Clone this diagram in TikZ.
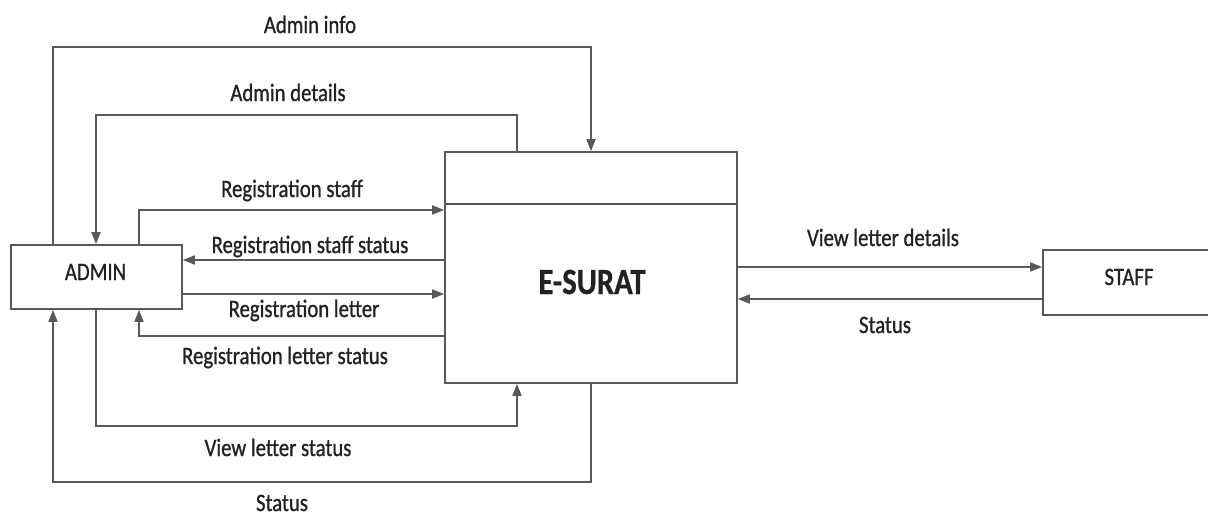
\documentclass[tikz,border=0pt]{standalone}
\usepackage{fontspec}
\setmainfont{Carlito}[FakeStretch=0.83, FakeBold=0.9]
\newfontfamily\titlefont{Carlito Bold}[FakeStretch=0.83, FakeBold=0.6]
\usetikzlibrary{arrows.meta}
\definecolor{linegray}{HTML}{595959}
\definecolor{textgray}{HTML}{222222}
\tikzset{
  box/.style={draw=linegray, line width=1.6pt, fill=white, inner sep=0pt},
  flow/.style={draw=linegray, line width=1.6pt, -{Triangle[length=12pt,width=9pt]}},
  lbl/.style={anchor=base, text=textgray, inner sep=0pt, font=\fontsize{25}{30}\selectfont},
  title/.style={anchor=base, text=textgray, inner sep=0pt, font=\fontsize{37}{44}\titlefont},
}
\begin{document}
\begin{tikzpicture}[x=1pt,y=-1pt]
\useasboundingbox (0,0) rectangle (1208,517);
\clip (0,0) rectangle (1208,517);
\fill[white] (0,0) rectangle (1208,517);

% boxes
\node[box, minimum width=171pt, minimum height=64pt] (admin) at (96.5,277) {};
\node[box, minimum width=292pt, minimum height=231pt] (esurat) at (591,267.5) {};
\node[box, minimum width=172pt, minimum height=65pt] (staff) at (1129,282.5) {};
\coordinate (cdiv) at (591,204);
\draw[linegray, line width=1.6pt] (cdiv -| esurat.west) -- (cdiv -| esurat.east);

\node[lbl] (adminT) at (95.5,280) {ADMIN};
\node[lbl] (staffT) at (1129,285) {STAFF};
\node[title] (esuratT) at (592,294) {E-SURAT};

% corner coordinates
\coordinate (c1a) at (53,47);
\coordinate (c1b) at (591,47);
\coordinate (c2a) at (517,115);
\coordinate (c2b) at (96,115);
\coordinate (c3a) at (139,210);
\coordinate (c4) at (300,260);
\coordinate (c5) at (300,294);
\coordinate (c6) at (139,336);
\coordinate (c7a) at (96,426);
\coordinate (c7b) at (517,426);
\coordinate (c8a) at (591,482);
\coordinate (c8b) at (53,482);
\coordinate (c9) at (890,267);
\coordinate (c10) at (890,299);

% connectors
\draw[flow] (c1a |- admin.north) -- (c1a) -- (c1b) -- (c1b |- esurat.north);
\draw[flow] (c2a |- esurat.north) -- (c2a) -- (c2b) -- (c2b |- admin.north);
\draw[flow] (c3a |- admin.north) -- (c3a) -- (c3a -| esurat.west);
\draw[flow] (c4 -| esurat.west) -- (c4 -| admin.east);
\draw[flow] (c5 -| admin.east) -- (c5 -| esurat.west);
\draw[flow] (c6 -| esurat.west) -- (c6) -- (c6 |- admin.south);
\draw[flow] (c7a |- admin.south) -- (c7a) -- (c7b) -- (c7b |- esurat.south);
\draw[flow] (c8a |- esurat.south) -- (c8a) -- (c8b) -- (c8b |- admin.south);
\draw[flow] (c9 -| esurat.east) -- (c9 -| staff.west);
\draw[flow] (c10 -| staff.west) -- (c10 -| esurat.east);

% labels
\node[lbl] (l1) at (310,33) {Admin info};
\node[lbl] (l2) at (288,101) {Admin details};
\node[lbl] (l3) at (292,197) {Registration staff};
\node[lbl] (l4) at (310,253) {Registration staff status};
\node[lbl] (l5) at (304,317) {Registration letter};
\node[lbl] (l6) at (285,364) {Registration letter status};
\node[lbl] (l7) at (278,456) {View letter status};
\node[lbl] (l8) at (282,511) {Status};
\node[lbl] (l9) at (883,246) {View letter details};
\node[lbl] (l10) at (885,333) {Status};
\end{tikzpicture}
\end{document}
